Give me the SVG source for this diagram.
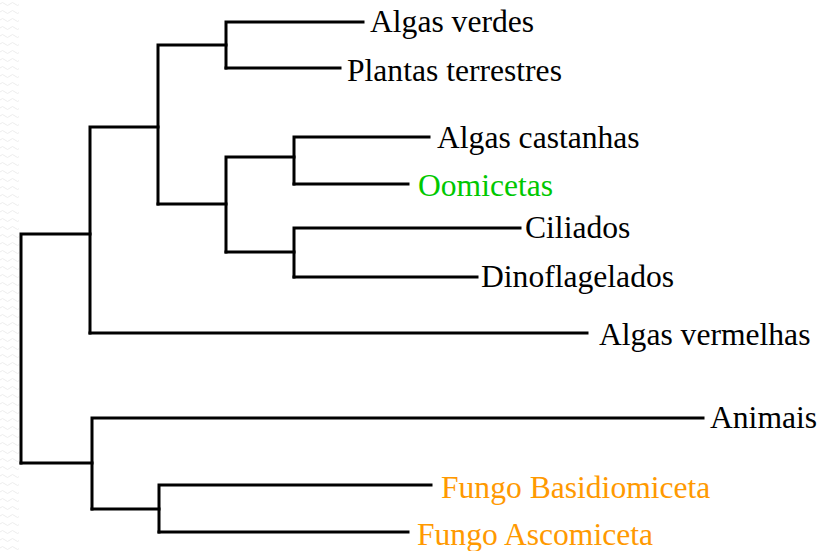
<svg xmlns="http://www.w3.org/2000/svg" width="829" height="551" viewBox="0 0 829 551">
<defs>
<pattern id="wave" x="0" y="0" width="10" height="8" patternUnits="userSpaceOnUse">
<path d="M0,4 Q2.5,1 5,4 T10,4" fill="none" stroke="#ececec" stroke-width="1"/>
</pattern>
<style>
.br{fill:none;stroke:#000;stroke-width:3;stroke-linecap:square;stroke-linejoin:miter}
.lb{font-family:"Liberation Serif","Times New Roman",serif;font-size:31.6px;fill:#000}
.g{fill:#00c800}
.o{fill:#ff9900}
</style>
</defs>
<rect width="829" height="551" fill="#fff"/>
<rect x="0" y="0" width="19" height="551" fill="url(#wave)"/>
<g id="connectors">
<path class="br" d="M21,463 V234 H90"/>
<path class="br" d="M21,463 H92"/>
<path class="br" d="M90,333 V127 H158"/>
<path class="br" d="M90,333 H587"/>
<path class="br" d="M158,204 V45 H226"/>
<path class="br" d="M226,68 V22 H363"/>
<path class="br" d="M226,68 H340"/>
<path class="br" d="M158,204 H226"/>
<path class="br" d="M226,252 V157 H294"/>
<path class="br" d="M294,184 V137 H429"/>
<path class="br" d="M294,184 H408"/>
<path class="br" d="M226,252 H294"/>
<path class="br" d="M294,277 V228 H520"/>
<path class="br" d="M294,277 H477"/>
<path class="br" d="M92,509 V418 H703"/>
<path class="br" d="M92,509 H159"/>
<path class="br" d="M159,532 V485 H431"/>
<path class="br" d="M159,532 H408"/>
</g>
<g id="n-algas-verdes"><text class="lb" x="370" y="32">Algas verdes</text></g>
<g id="n-plantas-terrestres"><text class="lb" x="347" y="81">Plantas terrestres</text></g>
<g id="n-algas-castanhas"><text class="lb" x="437" y="148">Algas castanhas</text></g>
<g id="n-oomicetas"><text class="lb g" x="418" y="196">Oomicetas</text></g>
<g id="n-ciliados"><text class="lb" x="525" y="238">Ciliados</text></g>
<g id="n-dinoflagelados"><text class="lb" x="481" y="287">Dinoflagelados</text></g>
<g id="n-algas-vermelhas"><text class="lb" x="599" y="345">Algas vermelhas</text></g>
<g id="n-animais"><text class="lb" x="710" y="428">Animais</text></g>
<g id="n-fungo-basidiomiceta"><text class="lb o" x="441" y="498">Fungo Basidiomiceta</text></g>
<g id="n-fungo-ascomiceta"><text class="lb o" x="417" y="545">Fungo Ascomiceta</text></g>
</svg>
